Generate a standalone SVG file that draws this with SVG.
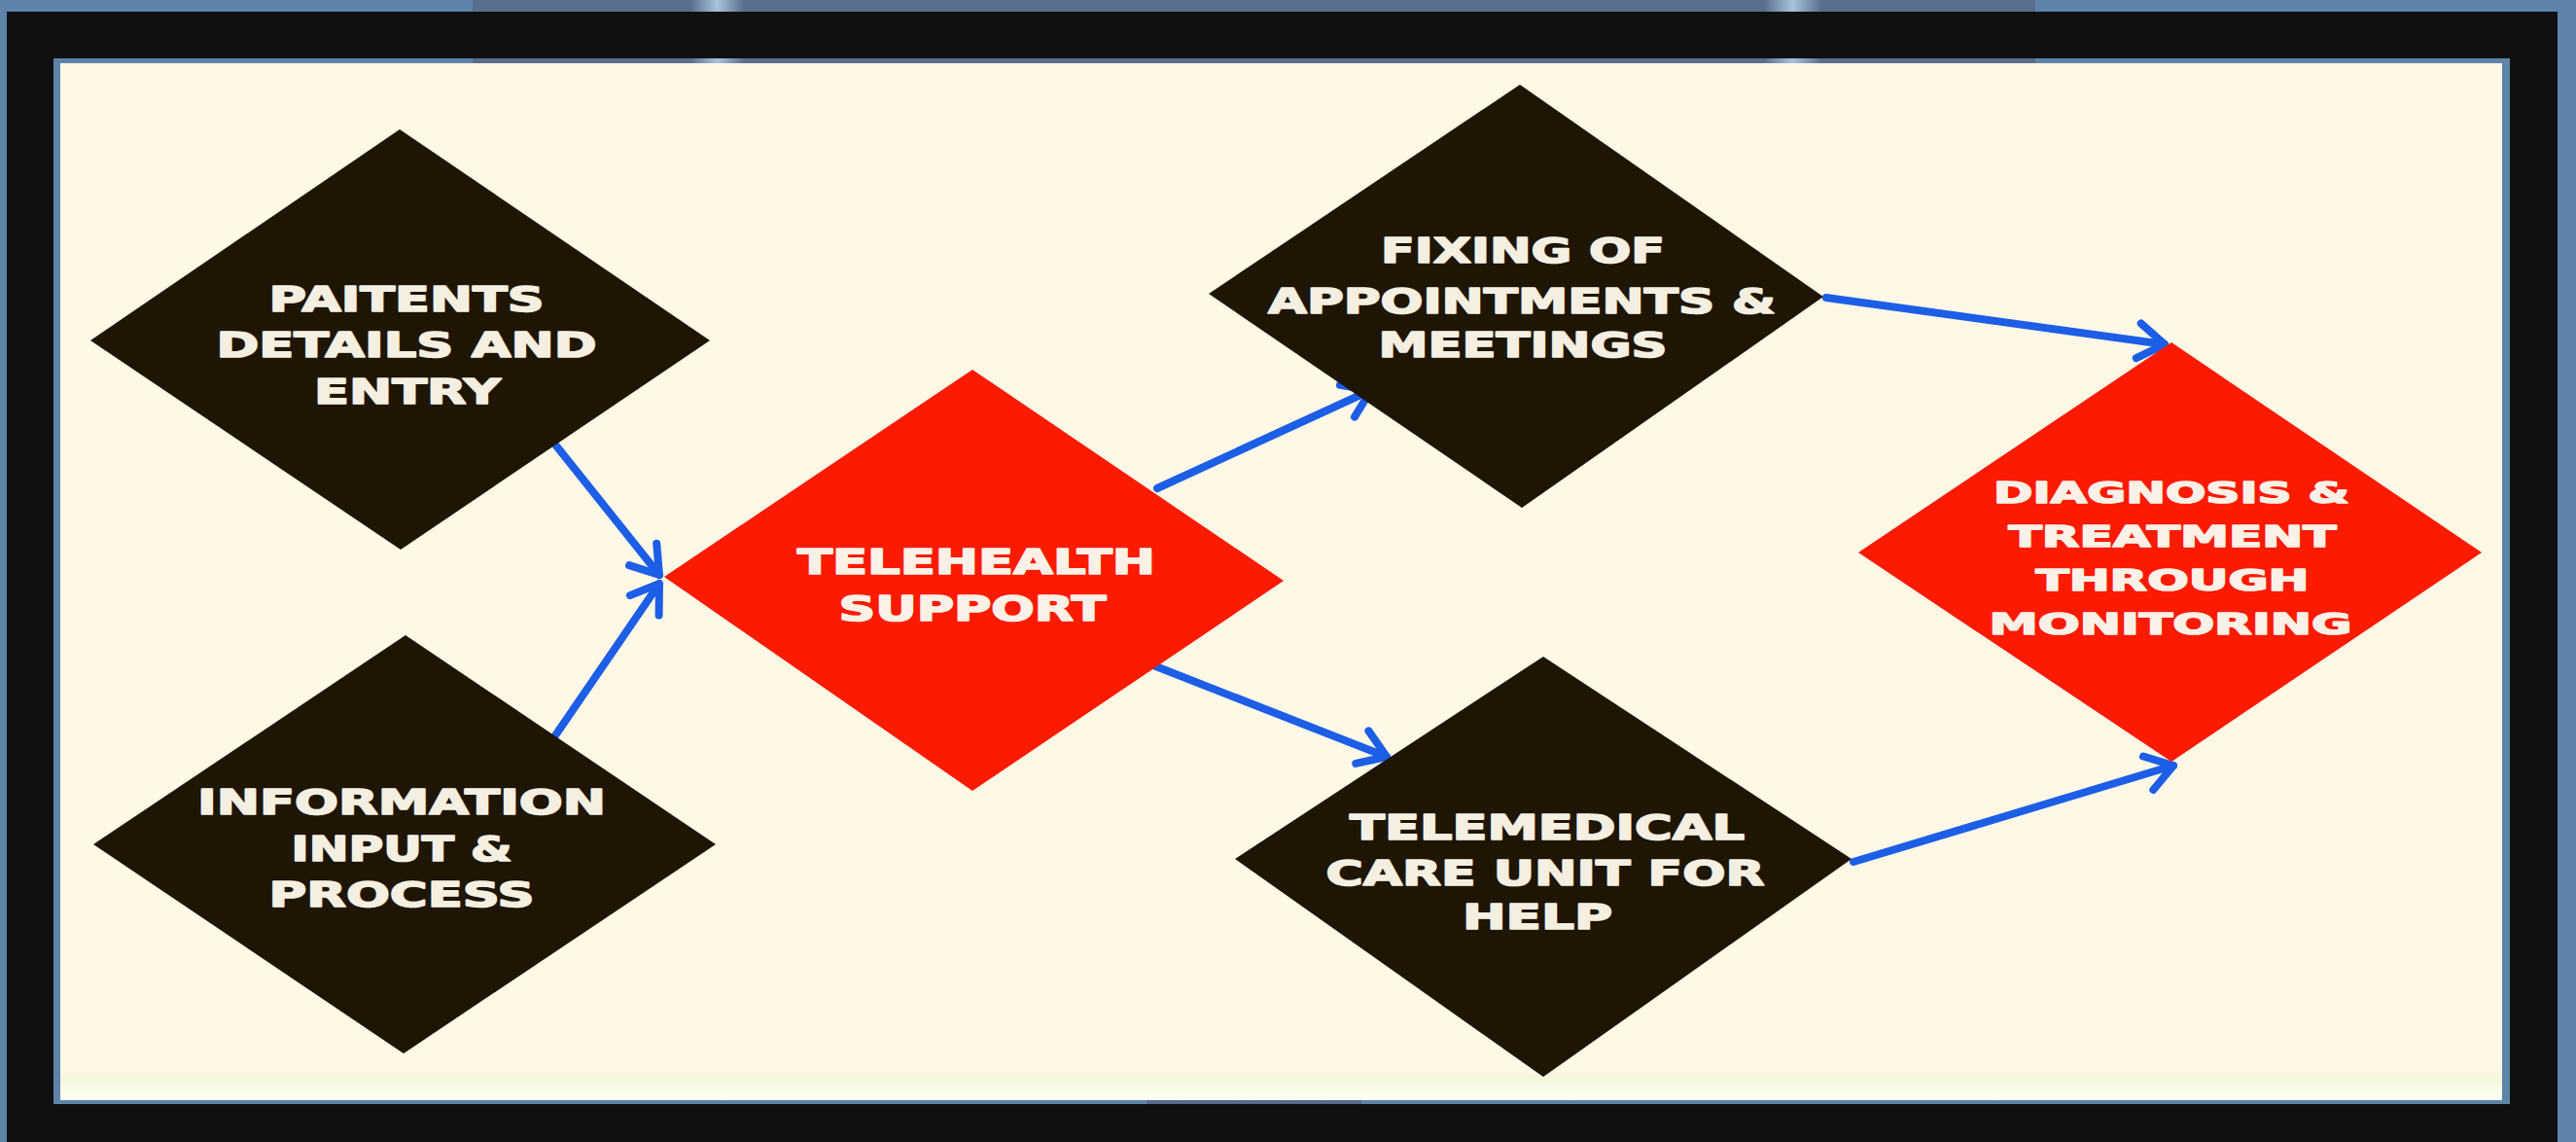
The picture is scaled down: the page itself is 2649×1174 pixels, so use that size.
<svg xmlns="http://www.w3.org/2000/svg" width="2649" height="1174" viewBox="0 0 2649 1174">
  <style>
    .dark { fill: #1e1505; }
    .red { fill: #fb1a02; }
    .lbl { font-family: "DejaVu Sans", "Liberation Sans", sans-serif; font-weight: bold; font-size: 35px; fill: #f4efe1; stroke: #f4efe1; stroke-width: 1.6; stroke-linejoin: round; text-anchor: middle; }
    .lbl-red { fill: #fdf0e6; stroke: #fdf0e6; }
    .small { font-size: 31px; }
    .conn { stroke: #1c5ee6; stroke-width: 8; fill: none; stroke-linecap: round; }
  </style>
  <defs>
    <marker id="chev" markerUnits="userSpaceOnUse" markerWidth="70" markerHeight="70" viewBox="-35 -35 70 70" refX="0" refY="0" orient="auto">
      <path d="M-27,-18 L0,0 L-27,18" fill="none" stroke="#1c5ee6" stroke-width="8" stroke-linecap="round" stroke-linejoin="round"/>
    </marker>
    <linearGradient id="hl" x1="0" y1="0" x2="1" y2="0">
      <stop offset="0" stop-color="#5a6e8e"/>
      <stop offset="0.5" stop-color="#a9c3dc"/>
      <stop offset="1" stop-color="#5a6e8e"/>
    </linearGradient>
    <linearGradient id="foot" x1="0" y1="0" x2="0" y2="1">
      <stop offset="0" stop-color="#fff8e6"/>
      <stop offset="0.25" stop-color="#f4f6dd"/>
      <stop offset="1" stop-color="#fffff4"/>
    </linearGradient>
  </defs>

  <!-- backdrop -->
  <rect x="0" y="0" width="2649" height="1174" fill="#5f84aa"/>
  <rect x="486" y="0" width="1607" height="66" fill="#5a6e8e"/>
  <rect x="710" y="0" width="55" height="66" fill="url(#hl)"/>
  <rect x="1814" y="0" width="59" height="66" fill="url(#hl)"/>
  <rect x="1179" y="1128" width="221" height="8" fill="#56698a"/>

  <!-- black frame with panel opening -->
  <path fill="#111010" fill-rule="evenodd" d="M7,12 H2630 V1174 H7 Z M55,60 V1135 H2581 V60 Z"/>

  <!-- cream panel -->
  <rect x="62" y="65" width="2511" height="1066" fill="#fff8e6"/>
  <rect x="62" y="1100" width="2511" height="31" fill="url(#foot)"/>

  <!-- connectors -->
  <g id="connectors">
    <line class="conn" x1="571" y1="457" x2="678" y2="591" marker-end="url(#chev)"/>
    <line class="conn" x1="567" y1="762" x2="678" y2="600" marker-end="url(#chev)"/>
    <line class="conn" x1="1190" y1="502" x2="1410" y2="401" marker-end="url(#chev)"/>
    <line class="conn" x1="1186" y1="684" x2="1426" y2="778" marker-end="url(#chev)"/>
    <line class="conn" x1="1878" y1="306" x2="2226" y2="354" marker-end="url(#chev)"/>
    <line class="conn" x1="1906" y1="886" x2="2235" y2="787" marker-end="url(#chev)"/>
  </g>

  <g id="node-patients">
    <polygon class="dark" points="411,133 730,350 412,565 93,350"/>
    <text class="lbl" x="418" y="320" textLength="283" lengthAdjust="spacingAndGlyphs">PAITENTS</text>
    <text class="lbl" x="418" y="367" textLength="391" lengthAdjust="spacingAndGlyphs">DETAILS AND</text>
    <text class="lbl" x="419" y="415" textLength="192" lengthAdjust="spacingAndGlyphs">ENTRY</text>
  </g>

  <g id="node-information">
    <polygon class="dark" points="417,653 736,868 415,1083 96,868"/>
    <text class="lbl" x="413" y="837" textLength="420" lengthAdjust="spacingAndGlyphs">INFORMATION</text>
    <text class="lbl" x="413" y="885" textLength="227" lengthAdjust="spacingAndGlyphs">INPUT &amp;</text>
    <text class="lbl" x="413" y="932" textLength="273" lengthAdjust="spacingAndGlyphs">PROCESS</text>
  </g>

  <g id="node-telehealth">
    <polygon class="red" points="1000,380 1320,597 1000,813 683,593"/>
    <text class="lbl lbl-red" x="1004" y="590" textLength="368" lengthAdjust="spacingAndGlyphs">TELEHEALTH</text>
    <text class="lbl lbl-red" x="1000" y="638" textLength="275" lengthAdjust="spacingAndGlyphs">SUPPORT</text>
  </g>

  <g id="node-appointments">
    <polygon class="dark" points="1563,87 1875,305 1565,522 1243,302"/>
    <text class="lbl" x="1566" y="270" textLength="292" lengthAdjust="spacingAndGlyphs">FIXING OF</text>
    <text class="lbl" x="1565" y="322" textLength="522" lengthAdjust="spacingAndGlyphs">APPOINTMENTS &amp;</text>
    <text class="lbl" x="1566" y="367" textLength="297" lengthAdjust="spacingAndGlyphs">MEETINGS</text>
  </g>

  <g id="node-telemedical">
    <polygon class="dark" points="1587,675 1904,883 1587,1107 1270,883"/>
    <text class="lbl" x="1591" y="863" textLength="406" lengthAdjust="spacingAndGlyphs">TELEMEDICAL</text>
    <text class="lbl" x="1589" y="910" textLength="451" lengthAdjust="spacingAndGlyphs">CARE UNIT FOR</text>
    <text class="lbl" x="1581" y="955" textLength="154" lengthAdjust="spacingAndGlyphs">HELP</text>
  </g>

  <g id="node-diagnosis">
    <polygon class="red" points="2233,352 2552,568 2233,783 1911,568"/>
    <text class="lbl lbl-red small" x="2233" y="517" textLength="366" lengthAdjust="spacingAndGlyphs">DIAGNOSIS &amp;</text>
    <text class="lbl lbl-red small" x="2234" y="562" textLength="337" lengthAdjust="spacingAndGlyphs">TREATMENT</text>
    <text class="lbl lbl-red small" x="2234" y="607" textLength="281" lengthAdjust="spacingAndGlyphs">THROUGH</text>
    <text class="lbl lbl-red small" x="2232" y="652" textLength="373" lengthAdjust="spacingAndGlyphs">MONITORING</text>
  </g>
</svg>
